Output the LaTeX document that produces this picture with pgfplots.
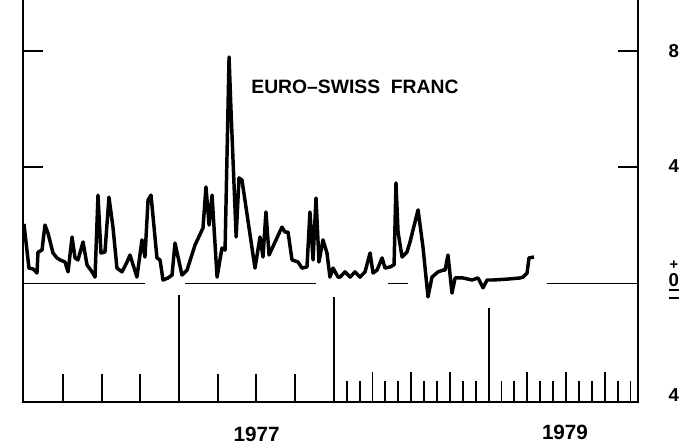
\documentclass[border=0pt]{standalone}
\usepackage{pgfplots}
\pgfplotsset{compat=1.18}
\usepackage{fontspec}
\setmainfont{Liberation Sans}
\begin{document}
\begin{tikzpicture}
\useasboundingbox (-17.25pt,-32.25pt) rectangle (493.5pt,301.5pt);
\begin{axis}[at={(0,0)}, anchor=south west, scale only axis,
  width=461.25pt, height=316.5pt,
  xmin=-0.093, xmax=47.58, ymin=-4.075, ymax=10.437,
  clip=false,
  axis line style={line width=1.9pt},
  xtick=\empty, ytick={4,8}, yticklabels={},
  tick align=inside, major tick length=15pt,
  tick style={black, line width=1.6pt},
]
% data series
\addplot[black, line width=2.6pt, line join=round, mark=none] coordinates {
(-0.02,2.05) (0.37,0.53) (0.68,0.50) (0.99,0.36) (1.07,1.08) (1.38,1.15) (1.61,2.01) (1.84,1.74)
(2.23,1.05) (2.54,0.88) (2.78,0.81) (3.16,0.74) (3.40,0.40) (3.71,1.60) (3.94,0.88) (4.17,0.81)
(4.56,1.43) (4.87,0.64) (5.26,0.40) (5.49,0.22) (5.72,3.04) (5.95,1.05) (6.26,1.08) (6.57,2.97)
(6.88,1.94) (7.19,0.53) (7.58,0.40) (7.97,0.74) (8.20,0.98) (8.74,0.22) (9.13,1.50) (9.36,0.91)
(9.60,2.87) (9.83,3.04) (10.29,0.88) (10.53,0.81) (10.76,0.12) (11.15,0.19) (11.46,0.29) (11.69,1.39)
(12.23,0.29) (12.62,0.46) (13.24,1.32) (13.86,1.91) (14.09,3.32) (14.33,2.01) (14.56,3.04) (14.95,0.22)
(15.33,1.22) (15.57,1.15) (15.88,7.79) (16.03,5.96) (16.43,1.60) (16.65,3.63) (16.88,3.56) (17.89,0.53)
(18.28,1.60) (18.51,0.91) (18.74,2.46) (18.98,0.98) (19.98,1.94) (20.22,1.77) (20.45,1.77) (20.76,0.81)
(21.22,0.74) (21.53,0.53) (21.92,0.57) (22.15,2.46) (22.39,0.81) (22.62,2.94) (22.85,0.74) (23.16,1.50)
(23.47,1.05) (23.70,0.22) (23.94,0.53) (24.33,0.22) (24.48,0.22) (24.87,0.40) (25.26,0.22) (25.64,0.40)
(26.03,0.22) (26.42,0.40) (26.81,1.05) (27.04,0.36) (27.35,0.46) (27.74,0.88) (27.97,0.53) (28.36,0.57)
(28.67,0.64) (28.82,3.46) (28.98,1.77) (29.29,0.91) (29.67,1.08) (29.91,1.43) (30.14,1.84) (30.53,2.53)
(30.91,1.26) (31.30,-0.46) (31.61,0.22) (32.08,0.40) (32.47,0.46) (32.62,0.46) (32.85,0.98) (33.16,-0.33)
(33.40,0.19) (34.02,0.19) (34.71,0.12) (35.18,0.19) (35.57,-0.15) (35.88,0.12) (36.34,0.12) (37.43,0.15)
(38.43,0.19) (38.67,0.22) (38.98,0.36) (39.13,0.88) (39.52,0.91)
};
% zero line segments
\addplot[black, line width=1.4pt, mark=none, unbounded coords=jump] coordinates {
(-0.01,0) (9.36,0) (9.36,nan)
(12.47,0) (22.62,0) (22.62,nan)
(28.2,0) (29.75,0) (29.75,nan)
(40.53,0) (47.58,0)
};
% time ticks along the bottom
\addplot[black, line width=1.4pt, mark=none, unbounded coords=jump] coordinates {
(12,-4.075) (12,-0.4) (12,nan) (24,-4.075) (24,-0.46) (24,nan) (36,-4.075) (36,-0.84) (36,nan)
(3,-4.075) (3,-3.11) (3,nan) (6,-4.075) (6,-3.11) (6,nan) (9,-4.075) (9,-3.11) (9,nan)
(15,-4.075) (15,-3.11) (15,nan) (18,-4.075) (18,-3.11) (18,nan) (21,-4.075) (21,-3.11) (21,nan)
(27,-4.075) (27,-3.04) (27,nan) (30,-4.075) (30,-3.04) (30,nan) (33,-4.075) (33,-3.04) (33,nan)
(39,-4.075) (39,-3.04) (39,nan) (42,-4.075) (42,-3.04) (42,nan) (45,-4.075) (45,-3.04) (45,nan)
(25,-4.075) (25,-3.35) (25,nan) (26,-4.075) (26,-3.35) (26,nan) (28,-4.075) (28,-3.35) (28,nan)
(29,-4.075) (29,-3.35) (29,nan) (31,-4.075) (31,-3.35) (31,nan) (32,-4.075) (32,-3.35) (32,nan)
(34,-4.075) (34,-3.35) (34,nan) (35,-4.075) (35,-3.35) (35,nan) (37,-4.075) (37,-3.35) (37,nan)
(38,-4.075) (38,-3.35) (38,nan) (40,-4.075) (40,-3.35) (40,nan) (41,-4.075) (41,-3.35) (41,nan)
(43,-4.075) (43,-3.35) (43,nan) (44,-4.075) (44,-3.35) (44,nan) (46,-4.075) (46,-3.35) (46,nan)
(47,-4.075) (47,-3.35)
};
% labels
\node[font=\fontsize{14.5}{15}\selectfont\bfseries] at (axis cs:25.64,6.76) {EURO--SWISS\hspace{0.55em}FRANC};
\node[font=\fontsize{15.5}{16}\selectfont\bfseries] at (axis cs:18.01,-5.175) {1977};
\node[font=\fontsize{15.5}{16}\selectfont\bfseries] at (axis cs:41.92,-5.12) {1979};
\node[anchor=west, inner sep=0pt, xshift=22.75pt, font=\fontsize{14}{14}\selectfont\bfseries] at (axis cs:47.58,8.0) {8};
\node[anchor=west, inner sep=0pt, xshift=22.75pt, font=\fontsize{14}{14}\selectfont\bfseries] at (axis cs:47.58,4.05) {4};
\node[anchor=west, inner sep=0pt, xshift=23.5pt, font=\fontsize{11}{11}\selectfont\bfseries] at (axis cs:47.58,0.64) {+};
\node[anchor=base west, inner sep=0pt, xshift=22.75pt, font=\fontsize{14}{14}\selectfont\bfseries] at (axis cs:47.58,-0.09) {0};
\node[anchor=west, inner sep=0pt, xshift=22.75pt] at (axis cs:47.58,-0.22) {\rule{8pt}{1.2pt}};
\node[anchor=west, inner sep=0pt, xshift=22.75pt] at (axis cs:47.58,-0.50) {\rule{8pt}{1.4pt}};
\node[anchor=west, inner sep=0pt, xshift=22.75pt, font=\fontsize{14}{14}\selectfont\bfseries] at (axis cs:47.58,-3.83) {4};
\end{axis}
\end{tikzpicture}
\end{document}
